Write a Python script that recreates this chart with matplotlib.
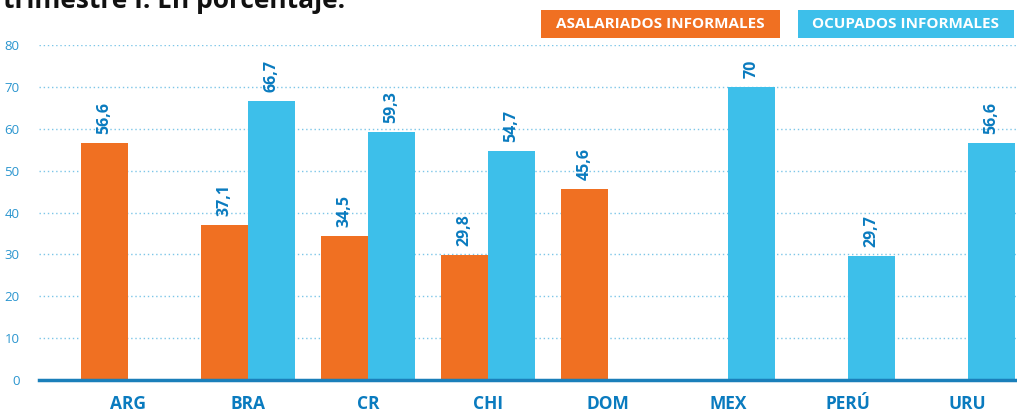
#! /usr/bin/env python3
# Informalidad laboral por pais - barras agrupadas
import matplotlib
matplotlib.use("Agg")
import matplotlib.pyplot as plt
from matplotlib.patches import Rectangle
import numpy as np

plt.rcParams['font.family'] = ['Open Sans', 'DejaVu Sans']

paises = ["ARG", "BRA", "CR", "CHI", "DOM", "MEX", "PERÚ", "URU"]
asalariados = [56.6, 37.1, 34.5, 29.8, 45.6, np.nan, np.nan, np.nan]
ocupados = [0.0, 66.7, 59.3, 54.7, np.nan, 70.0, 29.7, 56.6]
etiq_asal = ["56,6", "37,1", "34,5", "29,8", "45,6", "", "", ""]
etiq_ocup = ["", "66,7", "59,3", "54,7", "", "70", "29,7", "56,6"]
yticks = [0, 10, 20, 30, 40, 50, 60, 70, 80]

NARANJA = "#F07022"
CELESTE = "#3DBFEA"
AZUL = "#0A7BBF"

W, H = 1017, 412
fig = plt.figure(figsize=(W/100, H/100), dpi=100)
ax = fig.add_axes([39/W, 1 - 380/H, 1 - 39/W, (380 - 45)/H])

x = np.arange(len(paises))
w = 0.39
ax.bar(x - w/2, asalariados, w, color=NARANJA, zorder=3)
ax.bar(x + w/2, ocupados, w, color=CELESTE, zorder=3)

for xi, v, s in zip(x - w/2, asalariados, etiq_asal):
    if s:
        ax.annotate(s, (xi, v), xytext=(0, 6.5), textcoords="offset points",
                    rotation=90, ha="center", va="bottom", color=AZUL,
                    fontsize=11.5, fontweight="bold")
for xi, v, s in zip(x + w/2, ocupados, etiq_ocup):
    if s:
        ax.annotate(s, (xi, v), xytext=(0, 6.5), textcoords="offset points",
                    rotation=90, ha="center", va="bottom", color=AZUL,
                    fontsize=11.5, fontweight="bold")

ax.set_xlim(-0.742, 7.41)
ax.set_ylim(0, 80)
ax.set_yticks(yticks)
ax.set_xticks(x)
ax.set_xticklabels(paises)
ax.tick_params(axis="x", length=0, pad=10.5, labelsize=12.5, labelcolor=AZUL)
ax.tick_params(axis="y", length=0, pad=14, labelsize=9.5, labelcolor="#2A95CF")
for lab in ax.get_xticklabels():
    lab.set_fontweight("bold")

ax.grid(axis="y", color="#7CC6E8", linestyle=(0, (1, 2)), linewidth=1, zorder=0)
for s in ["top", "right", "left"]:
    ax.spines[s].set_visible(False)
ax.spines["bottom"].set_color("#1A7FBA")
ax.spines["bottom"].set_linewidth(2.5)
ax.spines["bottom"].set_zorder(4)

# leyenda como cajas de color
for x0, x1, col, txt in [(541, 780, NARANJA, "ASALARIADOS INFORMALES"),
                         (798, 1014, CELESTE, "OCUPADOS INFORMALES")]:
    fig.patches.append(Rectangle((x0/W, 1 - 38/H), (x1 - x0)/W, 28/H,
                                 transform=fig.transFigure, fc=col, ec="none"))
    fig.text((x0 + x1)/2/W, 1 - 24/H, txt, color="white", fontsize=11,
             fontweight="bold", ha="center", va="center")

# titulo cortado arriba
fig.text(3/W, 1 - 8/H, "trimestre I. En porcentaje.", color="#111111",
         fontsize=19, fontweight="bold", ha="left", va="baseline")

fig.savefig("out.png", dpi=100)
